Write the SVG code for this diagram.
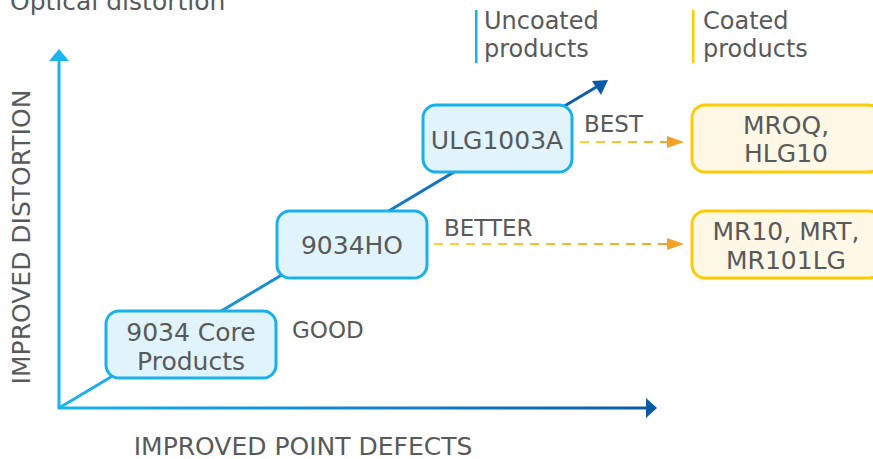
<svg xmlns="http://www.w3.org/2000/svg" width="873" height="459" viewBox="0 0 873 459">
<defs>
<linearGradient id="gBlueH" x1="59" y1="0" x2="657" y2="0" gradientUnits="userSpaceOnUse"><stop offset="0" stop-color="#1ab4ee"/><stop offset="1" stop-color="#0a5aa6"/></linearGradient>
<linearGradient id="gDiag" x1="59" y1="408" x2="608" y2="80" gradientUnits="userSpaceOnUse"><stop offset="0" stop-color="#1ab4ee"/><stop offset="0.35" stop-color="#1a8fd4"/><stop offset="1" stop-color="#0a5aa6"/></linearGradient>
<linearGradient id="gDash1" x1="580" y1="0" x2="684" y2="0" gradientUnits="userSpaceOnUse"><stop offset="0" stop-color="#ffd23a"/><stop offset="1" stop-color="#f5a028"/></linearGradient>
<linearGradient id="gDash2" x1="434" y1="0" x2="684" y2="0" gradientUnits="userSpaceOnUse"><stop offset="0" stop-color="#ffd23a"/><stop offset="1" stop-color="#f5a028"/></linearGradient>
</defs>
<style>
text{font-family:"DejaVu Sans","Noto Sans",sans-serif;fill:#58595b}
.lab{font-size:23px}
.leg{font-size:24px}
.box{font-size:25px;text-anchor:middle}
.unc rect{fill:#e1f3fb;stroke:#1ab0ea;stroke-width:3}
.coa rect{fill:#fff8e6;stroke:#ffcb05;stroke-width:3}
.dash{fill:none;stroke-width:2;stroke-dasharray:9 7}
</style>
<rect width="873" height="459" fill="#ffffff"/>
<text x="10" y="10" font-size="25">Optical distortion</text>
<g id="legend">
<rect x="475" y="10" width="2.5" height="53" fill="#1ab0ea"/>
<text class="leg" x="484" y="29">Uncoated</text>
<text class="leg" x="484" y="57">products</text>
<rect x="692" y="10" width="2.5" height="53" fill="#ffcb05"/>
<text class="leg" x="703" y="29">Coated</text>
<text class="leg" x="703" y="57">products</text>
</g>
<g id="connectors">
<line x1="59" y1="409" x2="59" y2="60" stroke="#1ab4ee" stroke-width="3"/>
<polygon points="49,61 69,61 59,49" fill="#1ab4ee"/>
<line x1="58" y1="408" x2="648" y2="408" stroke="url(#gBlueH)" stroke-width="3"/>
<polygon points="646,398 646,418 657,408" fill="#0a5aa6"/>
<line x1="59" y1="408" x2="598" y2="86" stroke="url(#gDiag)" stroke-width="3"/>
<polygon points="608,80 592,81 601,95" fill="#0a5aa6"/>
<line class="dash" x1="580" y1="142" x2="668" y2="142" stroke="url(#gDash1)"/>
<polygon points="667,136 667,148 684,142" fill="#f5a028"/>
<line class="dash" x1="434" y1="244" x2="668" y2="244" stroke="url(#gDash2)"/>
<polygon points="667,238 667,250 684,244" fill="#f5a028"/>
</g>
<g id="n-core" class="unc"><rect x="106" y="311" width="170" height="67" rx="13"/><text class="box" x="191" y="341">9034 Core</text><text class="box" x="191" y="370">Products</text></g>
<g id="n-ho" class="unc"><rect x="277" y="211" width="150" height="67" rx="13"/><text class="box" x="352" y="254">9034HO</text></g>
<g id="n-ulg" class="unc"><rect x="423" y="105" width="149" height="67" rx="13"/><text class="box" x="497" y="149">ULG1003A</text></g>
<g id="n-mroq" class="coa"><rect x="692" y="105" width="190" height="67" rx="13"/><text class="box" x="786" y="134">MROQ,</text><text class="box" x="786" y="162">HLG10</text></g>
<g id="n-mr10" class="coa"><rect x="692" y="211" width="190" height="67" rx="13"/><text class="box" x="786" y="240">MR10, MRT,</text><text class="box" x="786" y="269">MR101LG</text></g>
<g id="labels">
<text class="lab" x="292" y="338">GOOD</text>
<text class="lab" x="444" y="236">BETTER</text>
<text class="lab" x="584" y="132">BEST</text>
<text x="303" y="455" text-anchor="middle" font-size="25">IMPROVED POINT DEFECTS</text>
<text x="0" y="0" text-anchor="middle" font-size="25" transform="translate(30,237) rotate(-90)">IMPROVED DISTORTION</text>
</g>
</svg>
